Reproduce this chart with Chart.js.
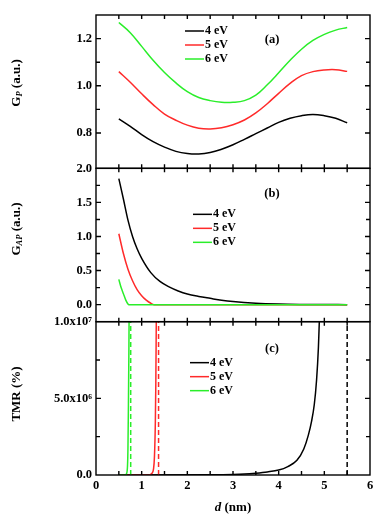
<!DOCTYPE html>
<html><head><meta charset="utf-8">
<script src="https://cdn.jsdelivr.net/npm/chart.js@4"></script>
<style>html,body{margin:0;padding:0;background:#fff}#wrap{width:383px;height:525px;position:relative}canvas{display:block}</style>
</head><body><div id="wrap"><canvas id="c" width="383" height="525"></canvas></div>
<script>
// ---- data ----
const seriesLabels = ['4 eV', '5 eV', '6 eV'];
const panelLabels = ['(a)', '(b)', '(c)'];

// (a) G_P
const dA = [0.5,0.75,1.0,1.25,1.5,1.75,2.0,2.25,2.5,2.75,3.0,3.25,3.5,3.75,4.0,4.25,4.5,4.75,5.0,5.25,5.5];
const gp4 = [0.860,0.828,0.793,0.763,0.740,0.722,0.713,0.711,0.717,0.731,0.750,0.773,0.797,0.821,0.845,0.862,0.873,0.878,0.873,0.862,0.843];
const gp5 = [1.060,1.015,0.966,0.920,0.880,0.854,0.833,0.820,0.817,0.822,0.835,0.855,0.885,0.924,0.968,1.010,1.043,1.060,1.067,1.068,1.061];
const gp6 = [1.268,1.225,1.167,1.108,1.056,1.012,0.975,0.950,0.937,0.930,0.930,0.937,0.960,1.004,1.055,1.108,1.155,1.192,1.218,1.236,1.247];

// (b) G_AP
const dB4 = [0.5,0.6,0.7,0.8,0.9,1.0,1.2,1.4,1.6,1.8,2.0,2.25,2.5,2.75,3.0,3.5,4.0,4.5,5.0,5.5];
const gap4 = [1.85,1.55,1.24,1.00,0.82,0.68,0.47,0.34,0.26,0.20,0.155,0.12,0.092,0.065,0.045,0.02,0.008,0.003,0.001,0.0];
const dB5 = [0.5,0.6,0.7,0.8,0.9,1.0,1.1,1.2,1.27,5.5];
const gap5 = [1.04,0.75,0.52,0.35,0.22,0.13,0.065,0.02,0,0];
const dB6 = [0.5,0.55,0.6,0.65,0.7,0.72,5.5];
const gap6 = [0.37,0.25,0.16,0.07,0.01,0,0];

// (c) TMR
const dC4 = [0.5,2.5,3.0,3.25,3.5,3.75,4.0,4.2,4.4,4.55,4.65,4.72,4.78,4.83,4.87,4.89];
const tmr4 = [0,0.01e6,0.03e6,0.06e6,0.12e6,0.2e6,0.32e6,0.55e6,0.96e6,1.7e6,2.6e6,3.5e6,4.6e6,6.2e6,8.3e6,1.0e7];
const dC5 = [0.5,1.15,1.22,1.26,1.28,1.30,1.31,1.32];
const tmr5 = [0,0,0.1e6,0.4e6,1.2e6,3.5e6,6e6,1e7];
const dC6 = [0.5,0.64,0.67,0.69,0.70,0.71,0.72,0.724];
const tmr6 = [0,0,0.1e6,0.6e6,1.8e6,4.5e6,8e6,1e7];
const asymD = [5.5, 1.37, 0.76];   // dashed vertical lines (4,5,6 eV)

const colors = ['#000000', '#ff2a2a', '#2aee2a'];
const SERIF = "'Liberation Serif','Times New Roman',serif";

const zip = (xs, ys) => xs.map((x, i) => ({x, y: ys[i]}));
function curve(data, i, axis, smooth) {
  const ds = {data, yAxisID: axis, borderColor: colors[i], borderWidth: 1.5, pointRadius: 0,
          fill: false, order: 10 - i, label: seriesLabels[i]};
  if (smooth) { ds.tension = 0.4; } else { ds.cubicInterpolationMode = 'monotone'; }
  return ds;
}
function vline(d, i) {
  return {data: [{x: d, y: 0}, {x: d, y: 1e7}], yAxisID: 'yC', borderColor: colors[i], borderWidth: 1.5,
          borderDash: [5, 3], pointRadius: 0, tension: 0, order: 5 - i};
}

const datasets = [
  curve(zip(dA, gp4), 0, 'yA', true), curve(zip(dA, gp5), 1, 'yA', true), curve(zip(dA, gp6), 2, 'yA', true),
  curve(zip(dB4, gap4), 0, 'yB'), curve(zip(dB5, gap5), 1, 'yB'), curve(zip(dB6, gap6), 2, 'yB'),
  curve(zip(dC4, tmr4), 0, 'yC'), curve(zip(dC5, tmr5), 1, 'yC'), curve(zip(dC6, tmr6), 2, 'yC'),
  vline(asymD[0], 0), vline(asymD[1], 1), vline(asymD[2], 2)
];

const tickFont = {family: SERIF, size: 12.5, weight: 'bold'};
function yScale(min, max, step, weight, fmt) {
  return {
    type: 'linear', position: 'left', stack: 'panels', stackWeight: 1, weight,
    min, max, grid: {display: false, drawTicks: false}, border: {display: false},
    ticks: {stepSize: step, autoSkip: false, padding: 4, color: '#000', font: tickFont, callback: fmt},
    afterFit: s => { s.width = 90; }
  };
}
const near = (v, t) => Math.abs(v - t) < 1e-6;

const decor = {
  id: 'decor',
  afterDraw(chart) {
    const ctx = chart.ctx, ca = chart.chartArea, xs = chart.scales.x;
    const ys = [chart.scales.yA, chart.scales.yB, chart.scales.yC];
    ctx.save();
    ctx.strokeStyle = '#000'; ctx.lineWidth = 1.4;
    ys.forEach((s, k) => {
      ctx.strokeRect(ca.left, s.top, ca.right - ca.left, s.bottom - s.top);
      s.ticks.forEach(t => {
        const p = s.getPixelForValue(t.value);
        if (Math.abs(p - s.top) < 1 || Math.abs(p - s.bottom) < 1) return;
        const L = t.label ? 5 : 4;
        ctx.beginPath();
        ctx.moveTo(ca.left, p); ctx.lineTo(ca.left + L, p);
        ctx.moveTo(ca.right, p); ctx.lineTo(ca.right - L, p);
        ctx.stroke();
      });
      xs.ticks.forEach(t => {
        const p = xs.getPixelForValue(t.value);
        if (Math.abs(p - ca.left) < 1 || Math.abs(p - ca.right) < 1) return;
        ctx.beginPath();
        ctx.moveTo(p, s.top); ctx.lineTo(p, s.top + 4);
        ctx.moveTo(p, s.bottom); ctx.lineTo(p, s.bottom - 4);
        ctx.stroke();
      });
    });
    ctx.fillStyle = '#000';
    ctx.font = 'bold 12.5px ' + SERIF;
    ctx.textAlign = 'center'; ctx.textBaseline = 'middle';
    const plY = [25, 25, 27];
    ys.forEach((s, k) => ctx.fillText(panelLabels[k], 272, s.top + plY[k]));
    const leg = [{x: 185, y: 16}, {x: 193, y: 46}, {x: 190, y: 41}];
    ys.forEach((s, k) => {
      seriesLabels.forEach((lab, i) => {
        const yy = s.top + leg[k].y + i * 14;
        ctx.strokeStyle = colors[i]; ctx.lineWidth = 1.5;
        ctx.beginPath(); ctx.moveTo(leg[k].x, yy); ctx.lineTo(leg[k].x + 19, yy); ctx.stroke();
        ctx.fillStyle = '#000'; ctx.font = 'bold 12px ' + SERIF; ctx.textAlign = 'left';
        ctx.fillText(lab, leg[k].x + 20, yy);
      });
    });
    const titles = [
      [['G', 'bold 13px', 0], ['P', 'italic bold 8.5px', 3], [' (a.u.)', 'bold 13px', 0]],
      [['G', 'bold 13px', 0], ['AP', 'italic bold 8.5px', 3], [' (a.u.)', 'bold 13px', 0]],
      [['TMR (%)', 'bold 13px', 0]]
    ];
    const tCy = [83, 229, 394];
    titles.forEach((parts, k) => {
      ctx.save();
      ctx.translate(17, tCy[k]); ctx.rotate(-Math.PI / 2);
      let w = 0;
      parts.forEach(p => { ctx.font = p[1] + ' ' + SERIF; w += ctx.measureText(p[0]).width; });
      let x = -w / 2;
      ctx.textAlign = 'left'; ctx.textBaseline = 'middle'; ctx.fillStyle = '#000';
      parts.forEach(p => { ctx.font = p[1] + ' ' + SERIF; ctx.fillText(p[0], x, p[2]); x += ctx.measureText(p[0]).width; });
      ctx.restore();
    });
    ctx.textBaseline = 'middle'; ctx.textAlign = 'left';
    ctx.font = 'italic bold 13px ' + SERIF; const w1 = ctx.measureText('d').width;
    ctx.font = 'bold 13px ' + SERIF; const w2 = ctx.measureText(' (nm)').width;
    const cx = (ca.left + ca.right) / 2 - (w1 + w2) / 2;
    ctx.font = 'italic bold 13px ' + SERIF; ctx.fillText('d', cx, 508);
    ctx.font = 'bold 13px ' + SERIF; ctx.fillText(' (nm)', cx + w1, 508);
    ctx.restore();
  }
};

new Chart(document.getElementById('c'), {
  type: 'line',
  data: {datasets},
  options: {
    responsive: false, animation: false, devicePixelRatio: 1,
    layout: {padding: {left: 6, right: 13, top: 15, bottom: 0}},
    plugins: {legend: {display: false}, tooltip: {enabled: false}},
    scales: {
      x: {type: 'linear', position: 'bottom', min: 0, max: 6,
          grid: {display: false, drawTicks: false}, border: {display: false},
          ticks: {stepSize: 0.5, autoSkip: false, padding: 3, maxRotation: 0, color: '#000', font: tickFont,
                  callback: v => Number.isInteger(v) ? String(v) : ''},
          afterFit: s => { s.height = 50; }},
      yA: yScale(0.65, 1.3, 0.1, 3, v => (near(v, 0.8) || near(v, 1.0) || near(v, 1.2)) ? v.toFixed(1) : ''),
      yB: yScale(-0.25, 2.0, 0.25, 2, v => (v >= -1e-6 && near(Math.round(v * 2) / 2, v)) ? v.toFixed(1) : ''),
      yC: yScale(0, 1e7, 2.5e6, 1, v => near(v, 0) ? '0.0' : near(v, 5e6) ? '5.0x10\u2076' : near(v, 1e7) ? '1.0x10\u2077' : '')
    }
  },
  plugins: [decor]
});
</script>
</body></html>
